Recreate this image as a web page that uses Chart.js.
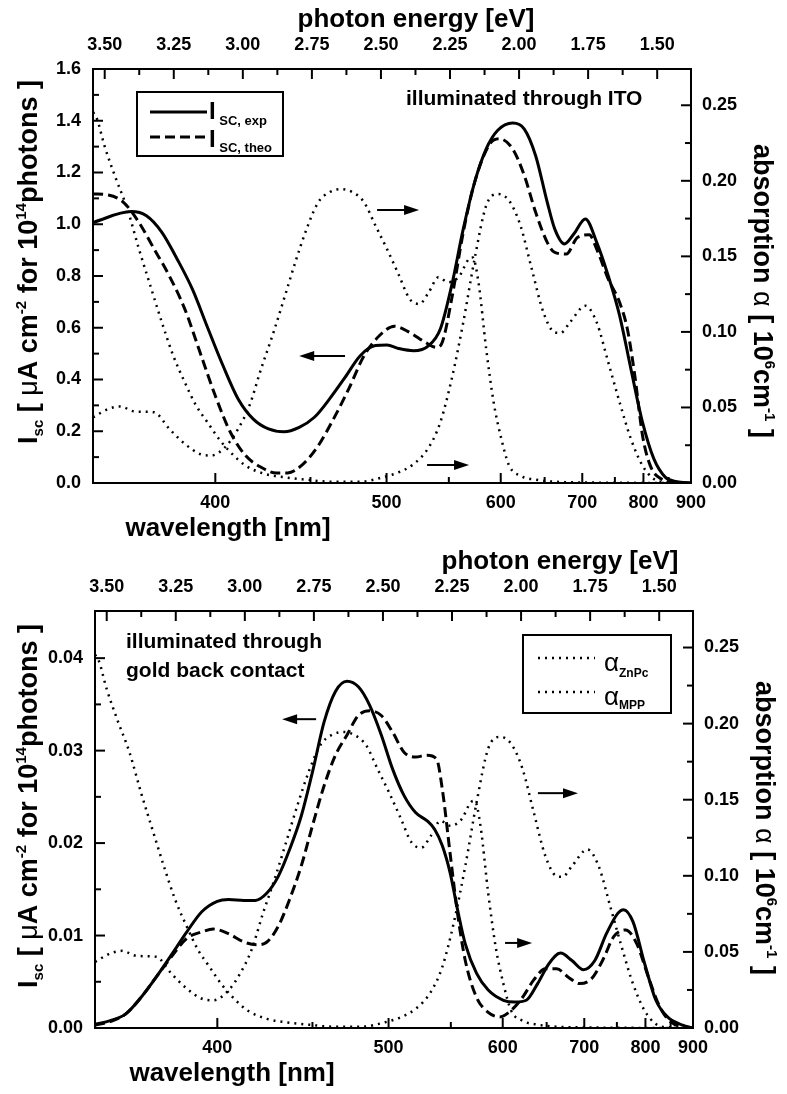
<!DOCTYPE html>
<html>
<head>
<meta charset="utf-8">
<script src="https://cdn.jsdelivr.net/npm/chart.js@4.4.1/dist/chart.umd.min.js"></script>
<style>
  body { margin: 0; background: #fff; }
  .panel { position: absolute; left: 0; width: 787px; height: 547px; }
</style>
</head>
<body>
<div class="panel" style="top:0"><canvas id="ito" width="787" height="547"></canvas></div>
<div class="panel" style="top:547px"><canvas id="gold" width="787" height="547"></canvas></div>
<script>
// x axis is photon energy (eV); wavelength axis is hc / E
const hc = 1239.84;
const energyTicks = [3.50, 3.25, 3.00, 2.75, 2.50, 2.25, 2.00, 1.75, 1.50];
const energyMinor = [3.375, 3.125, 2.875, 2.625, 2.375, 2.125, 1.875, 1.625];
const wavelengthTicks = [400, 500, 600, 700, 800, 900];
const wavelengthMinor = [450, 550, 650, 750, 850];
const itoTicks = [0, 0.2, 0.4, 0.6, 0.8, 1.0, 1.2, 1.4, 1.6];
const itoMinor = [0.1, 0.3, 0.5, 0.7, 0.9, 1.1, 1.3, 1.5];
const goldTicks = [0, 0.01, 0.02, 0.03, 0.04];
const goldMinor = [0.005, 0.015, 0.025, 0.035];
const alphaTicks = [0, 0.05, 0.10, 0.15, 0.20, 0.25];
const alphaMinor = [0.025, 0.075, 0.125, 0.175, 0.225];

// [energy eV, I_sc] illuminated through ITO
const itoExp = [[3.542,1.007],[3.404,1.049],[3.349,1.033],[3.293,0.969],[3.238,0.866],[3.183,0.75],[3.128,0.602],[3.072,0.454],[3.017,0.325],[2.962,0.247],[2.907,0.209],[2.851,0.198],[2.796,0.215],[2.741,0.254],[2.686,0.325],[2.630,0.408],[2.575,0.492],[2.520,0.531],[2.478,0.533],[2.437,0.52],[2.382,0.511],[2.327,0.531],[2.285,0.595],[2.244,0.763],[2.202,0.982],[2.161,1.162],[2.119,1.291],[2.078,1.362],[2.023,1.391],[1.981,1.368],[1.940,1.265],[1.898,1.085],[1.871,0.982],[1.836,0.924],[1.802,0.962],[1.760,1.02],[1.719,0.93],[1.677,0.80],[1.636,0.647],[1.595,0.44],[1.553,0.234],[1.512,0.093],[1.470,0.022],[1.429,0.005],[1.378,0]];
const itoTheo = [[3.542,1.117],[3.487,1.113],[3.432,1.085],[3.376,1.007],[3.321,0.904],[3.266,0.80],[3.210,0.672],[3.155,0.505],[3.100,0.338],[3.045,0.196],[2.990,0.106],[2.934,0.061],[2.879,0.039],[2.838,0.039],[2.782,0.073],[2.727,0.144],[2.672,0.247],[2.617,0.363],[2.561,0.492],[2.506,0.569],[2.451,0.606],[2.396,0.582],[2.340,0.544],[2.299,0.524],[2.278,0.544],[2.244,0.711],[2.202,0.969],[2.161,1.162],[2.106,1.31],[2.071,1.33],[2.023,1.291],[1.981,1.188],[1.940,1.046],[1.898,0.93],[1.871,0.891],[1.829,0.885],[1.788,0.95],[1.746,0.959],[1.719,0.904],[1.677,0.788],[1.636,0.698],[1.608,0.595],[1.581,0.415],[1.553,0.183],[1.525,0.067],[1.484,0.015],[1.429,0.003],[1.378,0]];

// [energy eV, I_sc] illuminated through gold back contact
const goldExp = [[3.542,0.0004],[3.487,0.0008],[3.432,0.0015],[3.376,0.0033],[3.321,0.0055],[3.266,0.0079],[3.210,0.0104],[3.155,0.0126],[3.100,0.0137],[3.059,0.0139],[3.003,0.0138],[2.962,0.0138],[2.920,0.0146],[2.879,0.0164],[2.838,0.0193],[2.796,0.0229],[2.755,0.0277],[2.713,0.0331],[2.672,0.0364],[2.630,0.0375],[2.589,0.0369],[2.548,0.0349],[2.506,0.0317],[2.465,0.028],[2.423,0.0251],[2.382,0.0233],[2.340,0.0224],[2.313,0.0215],[2.285,0.0197],[2.257,0.0168],[2.230,0.0128],[2.202,0.0091],[2.161,0.0059],[2.119,0.0041],[2.064,0.003],[2.023,0.0028],[1.981,0.003],[1.940,0.0048],[1.898,0.007],[1.857,0.0081],[1.816,0.0073],[1.774,0.0063],[1.733,0.0073],[1.691,0.0102],[1.650,0.0124],[1.629,0.0128],[1.595,0.0115],[1.553,0.007],[1.512,0.003],[1.470,0.0012],[1.415,0.0003],[1.378,0]];
const goldTheo = [[3.542,0.0003],[3.487,0.0007],[3.432,0.0015],[3.376,0.0033],[3.321,0.0055],[3.266,0.0077],[3.210,0.0097],[3.155,0.0104],[3.114,0.0107],[3.059,0.0102],[3.003,0.0093],[2.955,0.009],[2.920,0.0093],[2.879,0.011],[2.838,0.0139],[2.796,0.0175],[2.755,0.0219],[2.713,0.0262],[2.672,0.0295],[2.630,0.0317],[2.589,0.0338],[2.548,0.0343],[2.506,0.0338],[2.465,0.032],[2.423,0.0298],[2.382,0.0293],[2.340,0.0295],[2.306,0.0291],[2.285,0.0258],[2.257,0.0189],[2.230,0.0124],[2.202,0.0073],[2.161,0.0033],[2.119,0.0017],[2.078,0.0012],[2.036,0.0019],[1.995,0.0033],[1.954,0.0052],[1.912,0.0064],[1.871,0.0064],[1.829,0.0055],[1.788,0.0048],[1.746,0.0053],[1.705,0.0073],[1.664,0.0099],[1.622,0.0106],[1.581,0.0091],[1.539,0.0055],[1.498,0.0023],[1.456,0.0006],[1.401,0.0001],[1.378,0]];

// [energy eV, absorption 10^6 cm^-1]
const alphaZnPc = [[3.542,0.2454],[3.528,0.241],[3.501,0.2233],[3.459,0.2012],[3.418,0.1814],[3.376,0.1548],[3.335,0.1307],[3.293,0.1063],[3.252,0.0843],[3.210,0.0666],[3.169,0.0512],[3.128,0.0402],[3.086,0.0291],[3.045,0.0204],[2.990,0.0115],[2.920,0.006],[2.851,0.0038],[2.769,0.0022],[2.686,0.0009],[2.575,0.0009],[2.492,0.0038],[2.437,0.007],[2.382,0.0125],[2.327,0.0236],[2.285,0.0402],[2.244,0.0688],[2.202,0.1063],[2.161,0.1483],[2.119,0.1836],[2.078,0.1913],[2.036,0.1868],[1.995,0.1704],[1.954,0.1416],[1.912,0.113],[1.871,0.0997],[1.850,0.0993],[1.816,0.1063],[1.760,0.1173],[1.719,0.1063],[1.677,0.0798],[1.636,0.0534],[1.595,0.0291],[1.553,0.0115],[1.512,0.0026],[1.470,0.0005],[1.378,0]];
const alphaMPP = [[3.542,0.0435],[3.487,0.049],[3.445,0.0507],[3.390,0.0473],[3.321,0.0468],[3.266,0.0358],[3.210,0.0259],[3.155,0.0192],[3.114,0.0182],[3.059,0.0247],[3.017,0.0358],[2.976,0.0512],[2.934,0.0755],[2.893,0.0974],[2.851,0.1218],[2.810,0.1461],[2.769,0.1682],[2.727,0.1858],[2.686,0.1925],[2.644,0.1945],[2.603,0.1925],[2.561,0.1858],[2.520,0.1704],[2.478,0.1548],[2.437,0.1384],[2.396,0.1218],[2.361,0.1185],[2.327,0.1262],[2.292,0.1361],[2.257,0.1329],[2.216,0.137],[2.182,0.1483],[2.168,0.1493],[2.147,0.1329],[2.119,0.0887],[2.092,0.0534],[2.064,0.0291],[2.036,0.0115],[1.995,0.0048],[1.940,0.0022],[1.816,0.0005],[1.378,0]];

const FONT = '"Liberation Sans", Arial, Helvetica, sans-serif';
const TICK_FONT = 'bold 18px ' + FONT;
const TITLE_FONT = 'bold 26px ' + FONT;
const SIDE_FONT = 'bold 27px ' + FONT;
const SUP_FONT = 'bold 15px ' + FONT;

function pts(arr) { return arr.map(p => ({ x: p[0], y: p[1] })); }

function rich(ctx, segs, x, y, align) {
  let w = 0;
  segs.forEach(s => { ctx.font = s.f; s.w = ctx.measureText(s.t).width; w += s.w; });
  let cx = align === 'left' ? x : x - w / 2;
  ctx.textAlign = 'left';
  ctx.textBaseline = 'alphabetic';
  segs.forEach(s => { ctx.font = s.f; ctx.fillText(s.t, cx, y + (s.dy || 0)); cx += s.w; });
}

function line(ctx, x1, y1, x2, y2) {
  ctx.beginPath(); ctx.moveTo(x1, y1); ctx.lineTo(x2, y2); ctx.stroke();
}

function arrow(ctx, x1, x2, y) {
  const d = Math.sign(x2 - x1);
  ctx.setLineDash([]);
  ctx.lineWidth = 2;
  line(ctx, x1, y, x2 - d * 10, y);
  ctx.beginPath();
  ctx.moveTo(x2, y); ctx.lineTo(x2 - d * 15, y - 5); ctx.lineTo(x2 - d * 15, y + 5);
  ctx.closePath(); ctx.fill();
}

const leftTitle = [
  { t: 'I', f: SIDE_FONT }, { t: 'sc', f: SUP_FONT, dy: 6 },
  { t: ' [ ', f: SIDE_FONT }, { t: 'μ', f: '27px ' + FONT },
  { t: 'A cm', f: SIDE_FONT }, { t: '-2', f: SUP_FONT, dy: -11 },
  { t: ' for 10', f: SIDE_FONT }, { t: '14', f: SUP_FONT, dy: -11 },
  { t: 'photons ]', f: SIDE_FONT }
];
const rightTitle = [
  { t: 'absorption ', f: SIDE_FONT }, { t: 'α', f: '27px ' + FONT },
  { t: ' [ 10', f: SIDE_FONT }, { t: '6', f: SUP_FONT, dy: -11 },
  { t: 'cm', f: SIDE_FONT }, { t: '-1', f: SUP_FONT, dy: -11 },
  { t: ' ]', f: SIDE_FONT }
];

function decor(cfg) {
  return {
    id: 'decor',
    afterDatasetsDraw(chart) {
      const ctx = chart.ctx, a = chart.chartArea;
      const sx = chart.scales.x, yl = chart.scales.y, yr = chart.scales.y1;
      ctx.save();
      ctx.strokeStyle = '#000'; ctx.fillStyle = '#000';
      ctx.setLineDash([]); ctx.lineWidth = 2;
      ctx.strokeRect(a.left, a.top, a.right - a.left, a.bottom - a.top);

      // inward ticks
      energyTicks.forEach(e => { const p = sx.getPixelForValue(e); line(ctx, p, a.top, p, a.top + 10); });
      energyMinor.forEach(e => { const p = sx.getPixelForValue(e); line(ctx, p, a.top, p, a.top + 6); });
      wavelengthTicks.forEach(w => { const p = sx.getPixelForValue(hc / w); line(ctx, p, a.bottom, p, a.bottom - 10); });
      wavelengthMinor.forEach(w => { const p = sx.getPixelForValue(hc / w); line(ctx, p, a.bottom, p, a.bottom - 6); });
      cfg.leftTicks.forEach(v => { const p = yl.getPixelForValue(v); line(ctx, a.left, p, a.left + 10, p); });
      cfg.leftMinor.forEach(v => { const p = yl.getPixelForValue(v); line(ctx, a.left, p, a.left + 6, p); });
      alphaTicks.forEach(v => { const p = yr.getPixelForValue(v); line(ctx, a.right, p, a.right - 10, p); });
      alphaMinor.forEach(v => { const p = yr.getPixelForValue(v); line(ctx, a.right, p, a.right - 6, p); });

      // tick labels
      ctx.font = TICK_FONT; ctx.textBaseline = 'middle'; ctx.textAlign = 'center';
      energyTicks.forEach(e => ctx.fillText(e.toFixed(2), sx.getPixelForValue(e), a.top - 24));
      wavelengthTicks.forEach(w => ctx.fillText(String(w), sx.getPixelForValue(hc / w), a.bottom + 20));
      ctx.textAlign = 'right';
      cfg.leftTicks.forEach(v => ctx.fillText(v.toFixed(cfg.digits), a.left - 12, yl.getPixelForValue(v)));
      ctx.textAlign = 'left';
      alphaTicks.forEach(v => ctx.fillText(v.toFixed(2), a.right + 11, yr.getPixelForValue(v)));

      // axis titles
      rich(ctx, [{ t: 'photon energy [eV]', f: TITLE_FONT }], cfg.topTitleX, a.top - 42);
      rich(ctx, [{ t: 'wavelength [nm]', f: TITLE_FONT }], cfg.bottomTitleX, a.bottom + 53);
      ctx.save();
      ctx.translate(28, cfg.leftTitleY); ctx.rotate(-Math.PI / 2);
      rich(ctx, leftTitle, 0, 9);
      ctx.restore();
      ctx.save();
      ctx.translate(a.right + 72, cfg.rightTitleY); ctx.rotate(Math.PI / 2);
      rich(ctx, rightTitle, 0, 9);
      ctx.restore();

      // arrows pointing to the axis each curve belongs to
      cfg.arrows.forEach(r => arrow(ctx, sx.getPixelForValue(r[0]), sx.getPixelForValue(r[1]), yl.getPixelForValue(r[2])));

      cfg.extra(ctx);
      ctx.restore();
    }
  };
}

function makeChart(id, exp, theo, leftMax, padding, cfg) {
  const dotted = { borderColor: '#000', borderWidth: 2.5, borderDash: [2, 5], pointRadius: 0, yAxisID: 'y1', cubicInterpolationMode: 'monotone' };
  return new Chart(document.getElementById(id), {
    type: 'line',
    data: {
      datasets: [
        { label: 'I_SC, exp', data: pts(exp), borderColor: '#000', borderWidth: 3, pointRadius: 0, yAxisID: 'y', cubicInterpolationMode: 'monotone' },
        { label: 'I_SC, theo', data: pts(theo), borderColor: '#000', borderWidth: 3, borderDash: [10, 5], pointRadius: 0, yAxisID: 'y', cubicInterpolationMode: 'monotone' },
        Object.assign({ label: 'α ZnPc', data: pts(alphaZnPc) }, dotted),
        Object.assign({ label: 'α MPP', data: pts(alphaMPP) }, dotted)
      ]
    },
    options: {
      responsive: false,
      animation: false,
      devicePixelRatio: 1,
      layout: { padding: padding },
      scales: {
        x: { type: 'linear', min: hc / 900, max: hc / 350, reverse: true, display: false },
        y: { type: 'linear', min: 0, max: leftMax, display: false },
        y1: { type: 'linear', min: 0, max: 0.274, display: false }
      },
      plugins: { legend: { display: false }, tooltip: { enabled: false } }
    },
    plugins: [decor(cfg)]
  });
}

makeChart('ito', itoExp, itoTheo, 1.6, { left: 93, top: 69, right: 96, bottom: 64 }, {
  leftTicks: itoTicks, leftMinor: itoMinor, digits: 1,
  topTitleX: 416, bottomTitleX: 228, leftTitleY: 262, rightTitleY: 291,
  arrows: [[2.514, 2.362, 1.055], [2.630, 2.796, 0.491], [2.333, 2.181, 0.070]],
  extra(ctx) {
    ctx.lineWidth = 2; ctx.setLineDash([]);
    ctx.strokeRect(137, 92, 146, 64);
    ctx.lineWidth = 3;
    line(ctx, 150, 112, 207, 112);
    ctx.setLineDash([10, 5]);
    line(ctx, 150, 137, 207, 137);
    ctx.setLineDash([]);
    rich(ctx, [{ t: 'I', f: 'bold 24px ' + FONT }, { t: ' SC, exp', f: 'bold 13px ' + FONT, dy: 6 }], 209, 119, 'left');
    rich(ctx, [{ t: 'I', f: 'bold 24px ' + FONT }, { t: ' SC, theo', f: 'bold 13px ' + FONT, dy: 5 }], 209, 147, 'left');
    rich(ctx, [{ t: 'illuminated through ITO', f: 'bold 21px ' + FONT }], 406, 105, 'left');
  }
});

makeChart('gold', goldExp, goldTheo, 0.0451, { left: 95, top: 64, right: 94, bottom: 66 }, {
  leftTicks: goldTicks, leftMinor: goldMinor, digits: 2,
  topTitleX: 560, bottomTitleX: 232, leftTitleY: 259, rightTitleY: 281,
  arrows: [[2.742, 2.865, 0.0334], [1.939, 1.794, 0.0254], [2.058, 1.960, 0.0092]],
  extra(ctx) {
    ctx.lineWidth = 2; ctx.setLineDash([]);
    ctx.strokeRect(523, 88, 148, 78);
    ctx.lineWidth = 2.5; ctx.setLineDash([2, 5]);
    line(ctx, 538, 111, 595, 111);
    line(ctx, 538, 145, 595, 145);
    ctx.setLineDash([]);
    rich(ctx, [{ t: 'α', f: '26px ' + FONT }, { t: 'ZnPc', f: 'bold 12px ' + FONT, dy: 6 }], 604, 124, 'left');
    rich(ctx, [{ t: 'α', f: '26px ' + FONT }, { t: 'MPP', f: 'bold 12px ' + FONT, dy: 4 }], 604, 158, 'left');
    rich(ctx, [{ t: 'illuminated through', f: 'bold 21px ' + FONT }], 126, 101, 'left');
    rich(ctx, [{ t: 'gold back contact', f: 'bold 21px ' + FONT }], 126, 130, 'left');
  }
});
</script>
</body>
</html>
